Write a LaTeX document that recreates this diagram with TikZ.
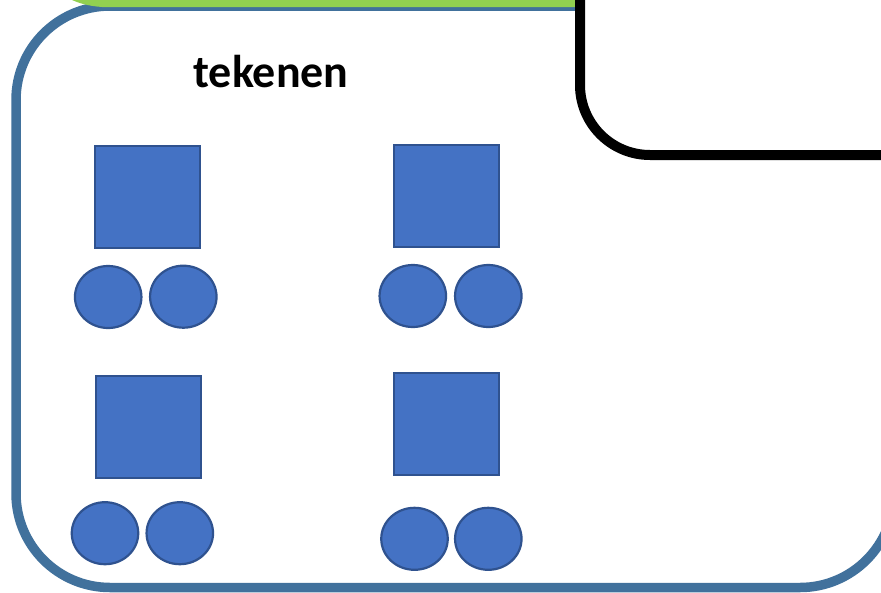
\documentclass[tikz,border=0pt]{standalone}
\usepackage{fontspec}
\setmainfont{Carlito}
\usetikzlibrary{shapes.geometric}
\definecolor{vlak}{HTML}{4472C4}
\definecolor{vlakrand}{HTML}{2F528F}
\definecolor{kader}{HTML}{41719C}
\definecolor{groen}{HTML}{92D050}
\tikzset{
	blok/.style={draw=vlakrand, fill=vlak, line width=2pt, rectangle, inner sep=0pt, minimum width=105pt, minimum height=102pt},
	wiel/.style={draw=vlakrand, fill=vlak, line width=2.2pt, ellipse, inner sep=0pt, minimum width=66.5pt, minimum height=62pt},
	kop/.style={font=\bfseries\fontsize{46}{50}\selectfont, inner sep=0pt}
}
\begin{document}
\begin{tikzpicture}[x=1pt, y=-1pt]
	\useasboundingbox (0,0) rectangle (881,592);
	\clip (0,0) rectangle (881,592);
	\fill [white] (0,0) rectangle (881,592);
	% kader
	\draw [kader, line width=9.5pt, rounded corners=94pt] (16,6) rectangle (894,587.5);
	\fill [groen] (70,-1) -- (590,-1) -- (590,7) -- (102,7) .. controls (88,6) and (78,3) .. (70,-1);
	\draw [black, fill=white, line width=10pt, rounded corners=70pt] (580,-120) rectangle (1000,155);
	\node [kop] (titel) at (271,72) {tekenen};
	% bovenste rij
	\node [blok] (blokA) at (147.5,196.5) {};
	\node [wiel] (wielA1) at (108.2,297) {};
	\node [wiel] (wielA2) at (183.3,296.7) {};
	\node [blok] (blokB) at (446,196.3) {};
	\node [wiel] (wielB1) at (412.8,296) {};
	\node [wiel] (wielB2) at (488.3,296) {};
	% onderste rij
	\node [blok] (blokC) at (148,426.7) {};
	\node [wiel] (wielC1) at (105,533.2) {};
	\node [wiel] (wielC2) at (179.8,533.2) {};
	\node [blok] (blokD) at (446,423.8) {};
	\node [wiel] (wielD1) at (414.5,538.8) {};
	\node [wiel] (wielD2) at (488.3,538.8) {};
\end{tikzpicture}
\end{document}
